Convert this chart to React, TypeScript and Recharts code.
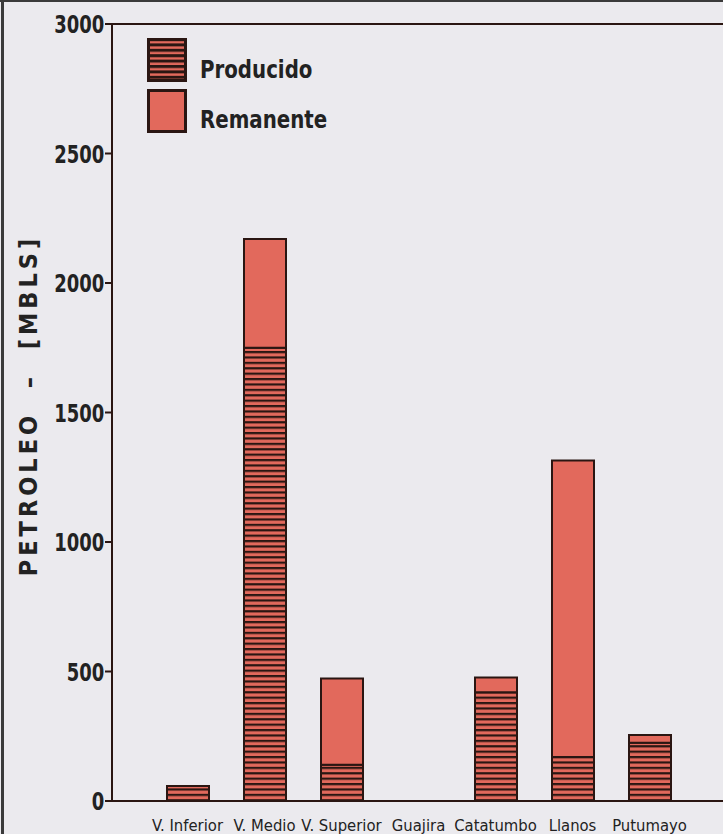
import { BarChart, Bar, XAxis, YAxis, ReferenceLine } from 'recharts';

const cuencas = ['V. Inferior', 'V. Medio', 'V. Superior', 'Guajira', 'Catatumbo', 'Llanos', 'Putumayo'];
const producido = [58, 1750, 140, 0, 420, 170, 225];
const remanente = [0, 420, 333, 0, 57, 1145, 30];
const yTicks = [0, 500, 1000, 1500, 2000, 2500, 3000];

const data = cuencas.map((name, i) => ({ name, producido: producido[i], remanente: remanente[i] }));

const INK = '#2a1612';
const TEXT = '#222';
const SALMON = '#e2695c';
const BG = '#ebeaee';
const FONT = '"DejaVu Sans Condensed", "Liberation Sans Narrow", Arial, sans-serif';

function HatchDefs({ id, dark = 2.2 }: { id: string; dark?: number }) {
    return (
        <defs>
            <pattern id={id} width="8" height="5.4" patternUnits="userSpaceOnUse">
                <rect width="8" height="5.4" fill={SALMON} />
                <rect width="8" height={dark} fill={INK} />
            </pattern>
        </defs>
    );
}

function LegendBox({ hatched }: { hatched: boolean }) {
    return (
        <svg width={40} height={44} style={{ display: 'block' }}>
            {hatched && <HatchDefs id="hatchLegend" dark={3} />}
            <rect x={1.5} y={1.5} width={37} height={41} fill={hatched ? 'url(#hatchLegend)' : SALMON} stroke={INK} strokeWidth={3} />
        </svg>
    );
}

// narrow, heavy numerals like the printed original
function YTick({ x, y, payload }: any) {
    return (
        <g transform={`translate(${x},${y})`}>
            <text transform="scale(0.8,1)" x={-1} y={0} dy={9} textAnchor="end" fill={TEXT} fontSize={25} fontWeight={700} fontFamily={FONT}>
                {payload.value}
            </text>
        </g>
    );
}

function YLabel({ viewBox }: any) {
    const cy = viewBox.y + viewBox.height / 2 - 7;
    return (
        <g transform={`translate(37,${cy}) rotate(-90)`}>
            <text x={0} y={0} textAnchor="middle" fill={TEXT} fontSize={25} fontWeight={700} fontFamily={FONT} letterSpacing={4} style={{ whiteSpace: 'pre' }}>
                {'PETROLEO  –  [MBLS]'}
            </text>
        </g>
    );
}

export default function App() {
    const legendText = { position: 'absolute' as const, left: 200, fontSize: 25, fontWeight: 700, color: TEXT, lineHeight: '30px', transform: 'scaleX(0.88)', transformOrigin: 'left center' };
    return (
        <div style={{ position: 'relative', width: 723, height: 834, background: BG, overflow: 'hidden', fontFamily: FONT }}>
            <style>{`body{margin:0}`}</style>
            <div style={{ position: 'absolute', left: 0, top: 0, width: 723, height: 2, background: '#3a3a3a' }} />
            <div style={{ position: 'absolute', left: 1, top: 0, width: 3, height: 834, background: '#3a3a3a' }} />
            <BarChart width={723} height={834} data={data} margin={{ top: 24, right: 0, bottom: 0, left: 0 }} barCategoryGap={0}>
                <HatchDefs id="hatchBar" />
                <ReferenceLine y={3000} stroke={INK} strokeWidth={2} />
                <XAxis
                    dataKey="name"
                    height={33}
                    padding={{ left: 37, right: 35 }}
                    axisLine={{ stroke: INK, strokeWidth: 2 }}
                    tickLine={false}
                    tickMargin={12}
                    interval={0}
                    tick={{ fill: TEXT, fontSize: 16.5, fontFamily: FONT }}
                />
                <YAxis
                    width={112}
                    domain={[0, 3000]}
                    ticks={yTicks}
                    allowDataOverflow
                    axisLine={{ stroke: INK, strokeWidth: 2 }}
                    tickLine={{ stroke: INK, strokeWidth: 2 }}
                    tickSize={7}
                    tickMargin={0}
                    tick={<YTick />}
                    label={<YLabel />}
                />
                <Bar dataKey="producido" stackId="a" barSize={42} fill="url(#hatchBar)" stroke={INK} strokeWidth={2} isAnimationActive={false} />
                <Bar dataKey="remanente" stackId="a" barSize={42} fill={SALMON} stroke={INK} strokeWidth={2} isAnimationActive={false} />
            </BarChart>
            <div style={{ position: 'absolute', left: 147, top: 38 }}><LegendBox hatched /></div>
            <div style={{ position: 'absolute', left: 147, top: 89 }}><LegendBox hatched={false} /></div>
            <div style={{ ...legendText, top: 55 }}>Producido</div>
            <div style={{ ...legendText, top: 105 }}>Remanente</div>
        </div>
    );
}
